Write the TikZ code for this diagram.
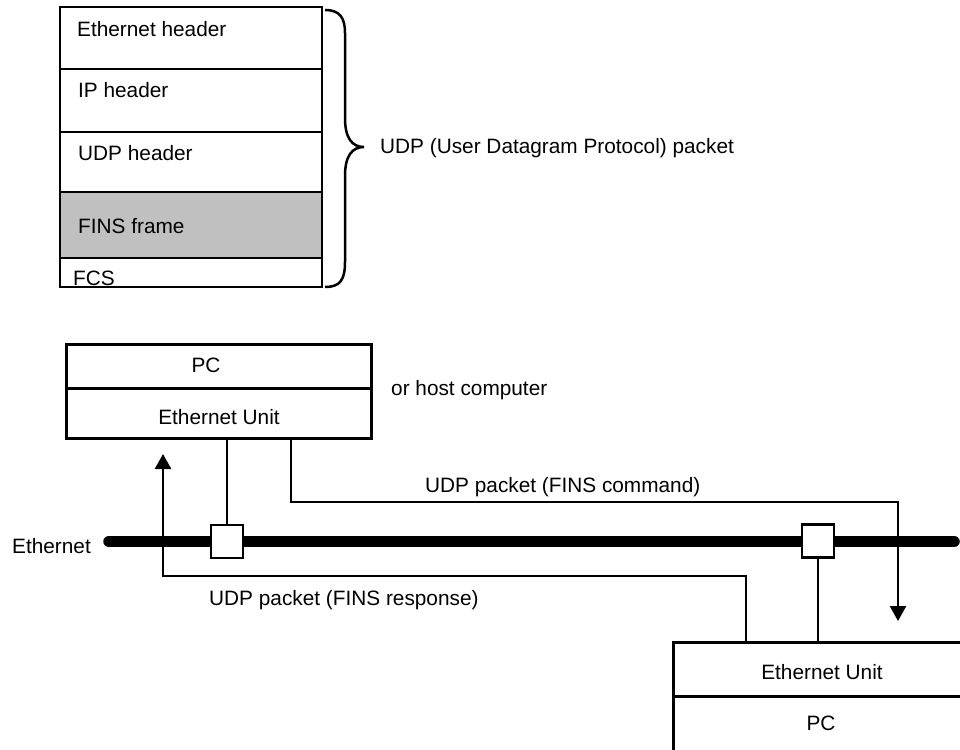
\documentclass[tikz,border=0pt]{standalone}
\usepackage{fontspec}
\setmainfont{Liberation Sans}
\usetikzlibrary{arrows.meta,calc}
\definecolor{finsgray}{RGB}{192,192,192}
\begin{document}
\begin{tikzpicture}[x=1pt,y=-1pt,
  lbl/.style={font=\fontsize{20.8pt}{25pt}\selectfont, inner sep=0pt, anchor=base},
  field/.style={draw, line width=2.2pt, inner sep=0pt, outer sep=0pt, minimum width=262pt, anchor=north west},
  unitbox/.style={draw, line width=3pt, inner sep=0pt, outer sep=0pt, minimum width=305pt, anchor=north west},
  tapbox/.style={draw, fill=white, line width=2.5pt, minimum width=32pt, minimum height=33pt, inner sep=0pt, outer sep=0pt},
  wire/.style={line width=2.5pt},
  flow/.style={line width=2.5pt, -{Triangle[length=15pt,width=16pt]}},
  bus/.style={line width=11.5pt, line cap=round},
  bracket/.style={line width=2.5pt}]

\path[use as bounding box, clip] (0,0) rectangle (960,749);

% ---- frame layout: stacked fields ----
\node[field, minimum height=62pt] (eth) at (60,7) {};
\node[field, minimum height=63pt] (ip) at (60,69) {};
\node[field, minimum height=60pt] (udp) at (60,132) {};
\node[field, fill=finsgray, minimum height=66pt] (fins) at (60,192) {};
\node[field, minimum height=29pt] (fcs) at (60,258) {};

\node[lbl, anchor=base west] (ethT) at (77,37) {Ethernet header};
\node[lbl, anchor=base west] (ipT) at (78,98) {IP header};
\node[lbl, anchor=base west] (udpT) at (78,160) {UDP header};
\node[lbl, anchor=base west] (finsT) at (78,233) {FINS frame};
\node[lbl, anchor=base west] (fcsT) at (73,285) {FCS};

% curly bracket grouping the fields
\draw[bracket] (325,10) .. controls (340,10) and (345,18) .. (345,33)
  -- (345,118) .. controls (345,138) and (352,147) .. (364,147)
  .. controls (352,147) and (345,156) .. (345,176)
  -- (345,262) .. controls (345,280) and (340,287) .. (325,287);
\node[lbl, anchor=base west] (udpP) at (380,153) {UDP (User Datagram Protocol) packet};

% ---- network ----
\coordinate (busL) at (109,541.5);
\coordinate (busR) at (954,541.5);
\draw[bus] (busL) -- (busR);
\node[lbl, anchor=base west] (ethL) at (12,553) {Ethernet};

% upper station
\node[unitbox, minimum height=44pt] (pc1) at (66,344) {};
\node[unitbox, minimum height=50pt] (eu1) at (66,388) {};
\node[lbl] (pc1T) at (206,372) {PC};
\node[lbl] (eu1T) at (219,424) {Ethernet Unit};
\node[lbl, anchor=base west] (host) at (391,395) {or host computer};

% lower station
\node[unitbox, minimum width=298pt, minimum height=54pt] (eu2) at (673,642) {};
\node[unitbox, minimum width=298pt, minimum height=60pt] (pc2) at (673,696) {};
\node[lbl] (eu2T) at (822,679) {Ethernet Unit};
\node[lbl] (pc2T) at (821,730) {PC};

% transceiver taps
\node[tapbox] (tap1) at (227,541.5) {};
\node[tapbox] (tap2) at (818,541) {};
\draw[wire] (eu1.south -| tap1.north) -- (tap1.north);
\draw[wire] (tap2.south) -- (tap2.south |- eu2.north);

% command path
\coordinate (cmdOut) at ($(eu1.south west)+(225,0)$);
\coordinate (cmdBend) at (291,502);
\coordinate (cmdIn) at (898,621);
\draw[flow] (cmdOut) -- (cmdBend) -| (cmdIn);
\node[lbl, anchor=base west] (cmdL) at (425,492) {UDP packet (FINS command)};

% response path
\coordinate (rspOut) at ($(eu2.north west)+(73,0)$);
\coordinate (rspBend) at (746,576);
\coordinate (rspIn) at (163,454);
\draw[flow] (rspOut) -- (rspBend) -| (rspIn);
\node[lbl, anchor=base west] (rspL) at (209,605) {UDP packet (FINS response)};

\end{tikzpicture}
\end{document}
